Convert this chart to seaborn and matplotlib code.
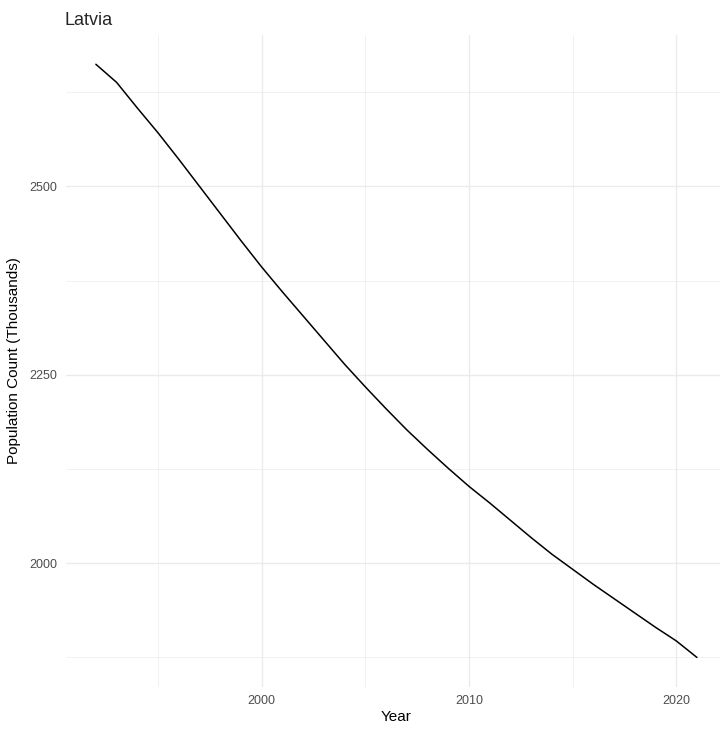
import numpy as np
import pandas as pd
import matplotlib
matplotlib.use("Agg")
import matplotlib.pyplot as plt
import seaborn as sns

# dane (tys. osob)
lata = list(range(1992, 2022))
populacja = [2662, 2638, 2604, 2571, 2536, 2500, 2464, 2428, 2393,
             2360, 2328, 2296, 2264, 2234, 2205, 2177, 2151, 2126, 2102,
             2080, 2057, 2034, 2012, 1992, 1972, 1953, 1934, 1915, 1897, 1875]
kraj = "Latvia"

df = pd.DataFrame({"rok": lata, "populacja": populacja})

sns.set_theme(style="whitegrid")
plt.rcParams["font.family"] = ["Liberation Sans", "DejaVu Sans"]

W, H = 720, 729
fig = plt.figure(figsize=(W / 100, H / 100), dpi=100)
ax = fig.add_axes([65.8 / W, 1 - 687.1 / H, (727 - 65.8) / W, (687.1 - 34.6) / H])

sns.lineplot(data=df, x="rok", y="populacja", ax=ax, color="black", linewidth=1.1)

# zakresy jak w ggplot (5% rozszerzenia)
xr = max(lata) - min(lata)
ax.set_xlim(min(lata) - 0.05 * xr, max(lata) + 0.05 * xr)
yr = max(populacja) - min(populacja)
ax.set_ylim(min(populacja) - 0.05 * yr, max(populacja) + 0.05 * yr)

ax.set_xticks([2000, 2010, 2020])
ax.set_xticks([1995, 2005, 2015], minor=True)
ax.set_yticks([2000, 2250, 2500])
ax.set_yticks([1875, 2125, 2375, 2625], minor=True)

ax.set_facecolor("white")
for s in ax.spines.values():
    s.set_visible(False)
ax.grid(which="major", color="#EBEBEB", linewidth=1.0)
ax.grid(which="minor", color="#EBEBEB", linewidth=0.5)
ax.tick_params(which="both", length=0, labelsize=9, labelcolor="#4D4D4D")
ax.tick_params(axis="x", pad=6)
ax.tick_params(axis="y", pad=6)

ax.set_xlabel("Year", fontsize=11, color="black", labelpad=2)
ax.set_ylabel("Population Count (Thousands)", fontsize=11, color="black", labelpad=6)

fig.text(65 / W, 1 - 25 / H, kraj, fontsize=13, ha="left", va="baseline")

fig.savefig("out.png", dpi=100, facecolor="white")
